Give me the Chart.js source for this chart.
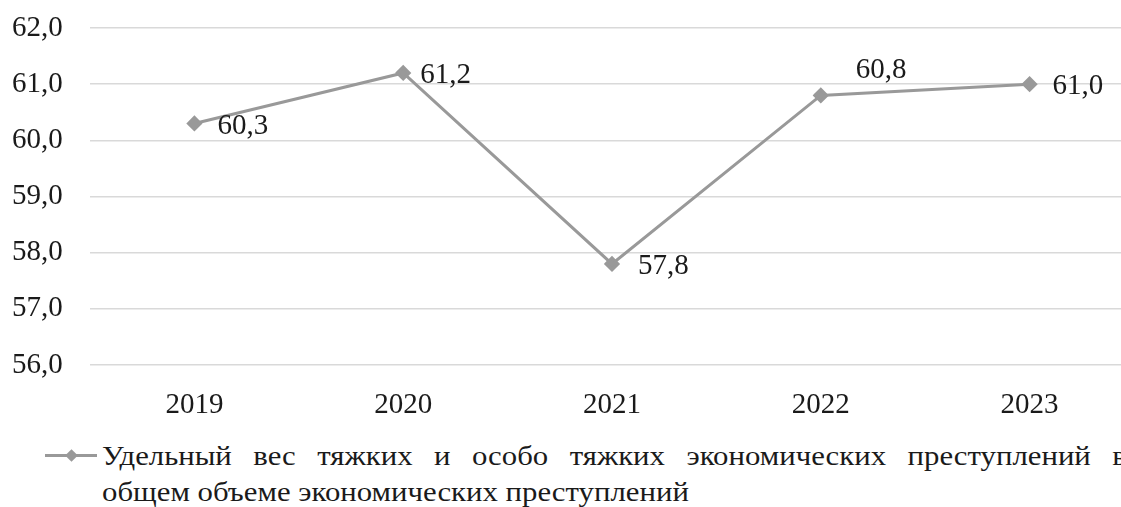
<!DOCTYPE html>
<html>
<head>
<meta charset="utf-8">
<script src="https://cdn.jsdelivr.net/npm/chart.js@4"></script>
<style>
  body { margin: 0; background: #fff; overflow: hidden; width: 1121px; height: 507px; position: relative; }
  #wrap { position: absolute; left: 0; top: 0; width: 1160px; height: 430px; }
  #legMark { position: absolute; left: 45px; top: 454px; width: 52px; height: 3px; background: #999; }
  #legDot { position: absolute; left: 67px; top: 451px; width: 9px; height: 9px; background: #999; transform: rotate(45deg); }
  #legText { position: absolute; left: 102px; top: 438px; width: 899px; font-family: 'Liberation Serif', 'Tinos', 'Times New Roman', serif; font-size: 27px; line-height: 36px; color: #1a1a1a; transform: scaleX(1.14); transform-origin: 0 0; }
  #leg1 { white-space: nowrap; text-align: justify; text-align-last: justify; }
  #leg2 { white-space: nowrap; }
</style>
</head>
<body>
<div id="wrap"><canvas id="myChart"></canvas></div>
<div id="legMark"></div>
<div id="legDot"></div>
<div id="legText">
  <div id="leg1"></div>
  <div id="leg2"></div>
</div>
<script>
// Chart data
const years = ["2019", "2020", "2021", "2022", "2023"];
const shares = [60.3, 61.2, 57.8, 60.8, 61.0];
const seriesName = ["Удельный вес тяжких и особо тяжких экономических преступлений в", "общем объеме экономических преступлений"];

// Legend text (two lines as in the original)
document.getElementById("leg1").textContent = seriesName[0];
document.getElementById("leg2").textContent = seriesName[1];

const fontFamily = "'Liberation Serif', 'Tinos', 'Times New Roman', serif";

// Offsets of value labels from their points
const labelOffsets = [[23, 3], [17, 2], [26, 2], [35, -25], [23, 2]];

// Plugin that draws the value labels next to each point
const valueLabels = {
  id: "valueLabels",
  afterDatasetsDraw(chart) {
    const ctx = chart.ctx;
    const meta = chart.getDatasetMeta(0);
    ctx.save();
    ctx.font = "29px " + fontFamily;
    ctx.fillStyle = "#1a1a1a";
    ctx.textAlign = "left";
    ctx.textBaseline = "middle";
    meta.data.forEach((pt, i) => {
      const txt = shares[i].toFixed(1).replace(".", ",");
      ctx.fillText(txt, pt.x + labelOffsets[i][0], pt.y + labelOffsets[i][1]);
    });
    ctx.restore();
  }
};

const myChart = new Chart(document.getElementById("myChart"), {
  type: "line",
  data: {
    labels: years,
    datasets: [{
      label: seriesName.join(" "),
      data: shares,
      borderColor: "#999999",
      backgroundColor: "#999999",
      borderWidth: 3,
      pointStyle: "rectRot",
      pointRadius: 6,
      pointHoverRadius: 6,
      tension: 0
    }]
  },
  options: {
    responsive: true,
    maintainAspectRatio: false,
    animation: false,
    layout: { padding: { top: 28, right: 26, left: 12, bottom: 0 } },
    plugins: {
      legend: { display: false },
      tooltip: { enabled: false }
    },
    scales: {
      x: {
        offset: true,
        grid: { display: false },
        border: { display: false },
        ticks: { color: "#1a1a1a", font: { family: fontFamily, size: 29 }, padding: 15 },
        afterFit(scale) { scale.height = 65; }
      },
      y: {
        min: 56,
        max: 62,
        border: { display: false },
        grid: { color: "#d9d9d9", lineWidth: 1.5, drawTicks: false },
        ticks: {
          stepSize: 1,
          color: "#1a1a1a",
          font: { family: fontFamily, size: 29 },
          padding: 0,
          crossAlign: "far",
          callback: v => v.toFixed(1).replace(".", ",")
        },
        afterFit(scale) { scale.width = 78; }
      }
    }
  },
  plugins: [valueLabels]
});
</script>
</body>
</html>
